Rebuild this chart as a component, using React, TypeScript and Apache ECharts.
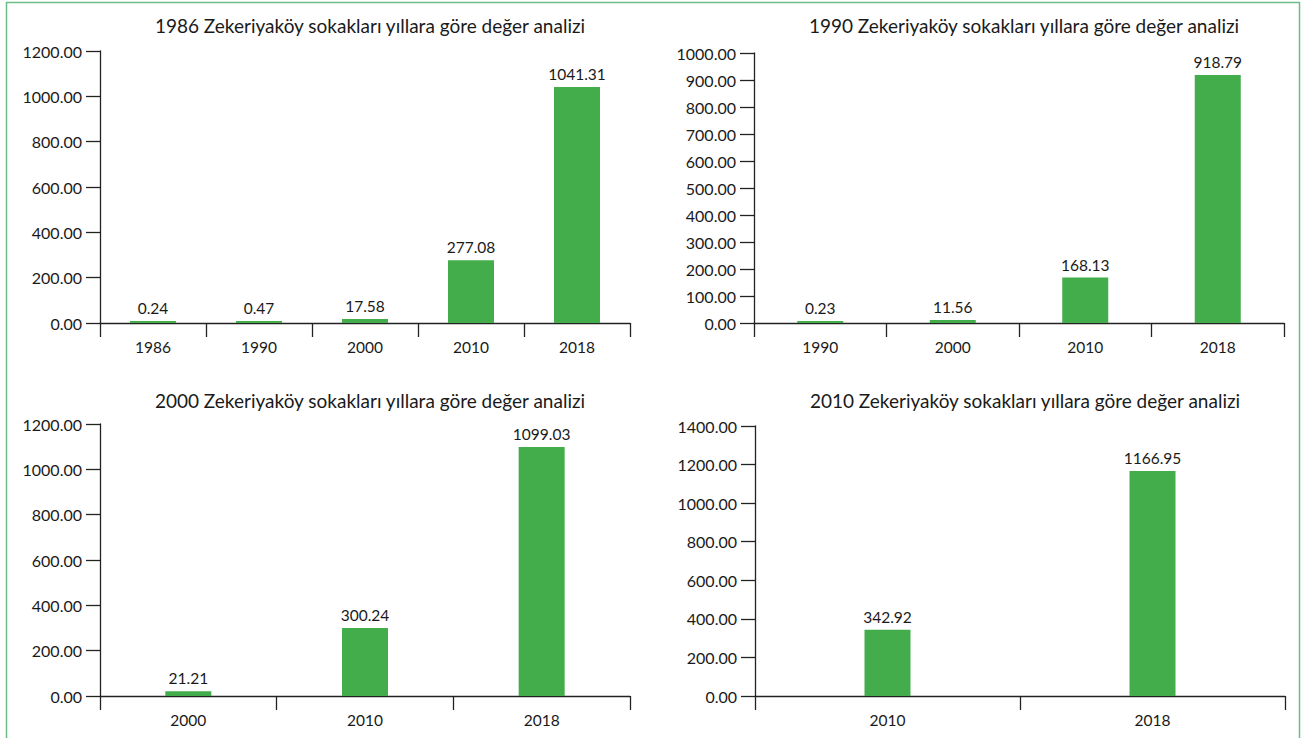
import React, { useEffect, useRef } from "react";
import * as echarts from "echarts";

const titles = [
  "1986 Zekeriyaköy sokakları yıllara göre değer analizi",
  "1990 Zekeriyaköy sokakları yıllara göre değer analizi",
  "2000 Zekeriyaköy sokakları yıllara göre değer analizi",
  "2010 Zekeriyaköy sokakları yıllara göre değer analizi",
];
const cats1986 = ["1986", "1990", "2000", "2010", "2018"];
const vals1986 = [0.24, 0.47, 17.58, 277.08, 1041.31];
const cats1990 = ["1990", "2000", "2010", "2018"];
const vals1990 = [0.23, 11.56, 168.13, 918.79];
const cats2000 = ["2000", "2010", "2018"];
const vals2000 = [21.21, 300.24, 1099.03];
const cats2010 = ["2010", "2018"];
const vals2010 = [342.92, 1166.95];
const axisMax = [1200, 1000, 1200, 1400];
const axisInterval = [200, 100, 200, 200];

const FONT = "Lato";
const TXT = "#1a1a1a";
const GREEN = "#42ad4a";

export default function App() {
  const ref = useRef<HTMLDivElement>(null);
  useEffect(() => {
    if (!ref.current) return;
    const chart = echarts.init(ref.current, undefined, { renderer: "svg" });
    const cats = [cats1986, cats1990, cats2000, cats2010];
    const vals = [vals1986, vals1990, vals2000, vals2010];
    const grids = [
      { left: 100, top: 51, width: 530, height: 272 },
      { left: 754, top: 53, width: 530, height: 270 },
      { left: 100, top: 424, width: 530, height: 272 },
      { left: 755, top: 426, width: 530, height: 270 },
    ];
    const titleCenters = [
      { x: 365, y: 11 },
      { x: 1019, y: 11 },
      { x: 365, y: 386 },
      { x: 1020, y: 386 },
    ];
    const option: any = {
      animation: false,
      backgroundColor: "#ffffff",
      title: titles.map((t, i) => ({
        text: t,
        left: titleCenters[i].x,
        top: titleCenters[i].y,
        textAlign: "center",
        textStyle: { fontFamily: FONT, fontSize: 19, fontWeight: "normal", color: TXT },
      })),
      graphic: [
        {
          type: "rect",
          shape: { x: 6.5, y: 2.5, width: 1293, height: 760 },
          style: { fill: "none", stroke: "#6dbd86", lineWidth: 1.5 },
          silent: true,
        },
      ],
      grid: grids.map((g) => ({ ...g })),
      xAxis: cats.map((c, i) => ({
        type: "category",
        gridIndex: i,
        data: c,
        axisLine: { lineStyle: { color: "#222", width: 1.3 } },
        axisTick: { show: true, length: 14, alignWithLabel: false, lineStyle: { color: "#222", width: 1.3 } },
        axisLabel: { fontFamily: FONT, fontSize: 15.5, color: TXT, margin: 16 },
        splitLine: { show: false },
      })),
      yAxis: cats.map((c, i) => ({
        type: "value",
        gridIndex: i,
        min: 0,
        max: axisMax[i],
        interval: axisInterval[i],
        axisLine: { show: true, lineStyle: { color: "#222", width: 1.3 } },
        axisTick: { show: true, length: 14, lineStyle: { color: "#222", width: 1.3 } },
        axisLabel: {
          fontFamily: FONT,
          fontSize: 16,
          color: TXT,
          margin: 18,
          formatter: (v: number) => v.toFixed(2),
        },
        splitLine: { show: false },
      })),
      series: vals.map((v, i) => ({
        type: "bar",
        xAxisIndex: i,
        yAxisIndex: i,
        data: v,
        barWidth: 46,
        barMinHeight: 2,
        itemStyle: { color: GREEN },
        label: {
          show: true,
          position: "top",
          distance: 5,
          fontFamily: FONT,
          fontSize: 15.5,
          color: TXT,
          formatter: (p: any) => Number(p.value).toFixed(2),
        },
      })),
    };
    chart.setOption(option);
    return () => chart.dispose();
  }, []);
  return (
    <div
      ref={ref}
      style={{ position: "absolute", left: 0, top: 0, width: 1311, height: 738 }}
    />
  );
}
